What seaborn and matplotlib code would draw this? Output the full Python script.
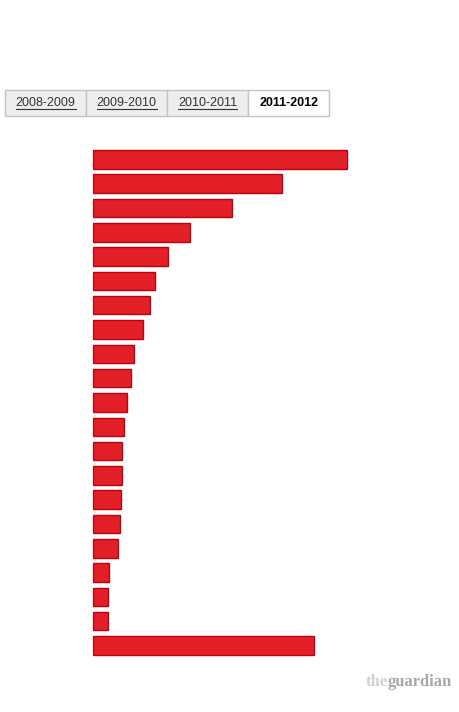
import matplotlib
matplotlib.use("Agg")
import matplotlib.pyplot as plt
import seaborn as sns
import pandas as pd
from matplotlib.patches import Rectangle
from matplotlib.lines import Line2D

# Data (bar lengths, arbitrary units; labels are not shown)
categories = [f"row{i}" for i in range(1, 22)]
values = [254, 189, 139, 97, 75, 62, 57, 50, 41, 38,
          34, 31, 29, 29, 28, 27, 25, 16, 15, 15, 221]
tabs = ["2008-2009", "2009-2010", "2010-2011", "2011-2012"]
active_tab = "2011-2012"

df = pd.DataFrame({"cat": categories, "value": values})

W, H = 460, 712
fig = plt.figure(figsize=(W / 100, H / 100), dpi=100)
fig.patch.set_facecolor("white")

# bar area
ax = fig.add_axes([93.5 / W, 1 - 657.7 / H, (W - 93.5) / W, (657.7 - 147.2) / H])
sns.barplot(data=df, x="value", y="cat", orient="h", color="#e32028",
            saturation=1, width=0.76, edgecolor="#c0000c", linewidth=1, ax=ax)
ax.set_xlim(0, W - 93.5)
ax.set_ylim(len(categories) - 0.5, -0.5)
ax.axis("off")

# --- year tabs ---
edges = [5, 86.3, 167.3, 248.3, 329.3]
top, bot = 90, 116
renderer = fig.canvas.get_renderer()
for i, t in enumerate(tabs):
    x0, x1 = edges[i], edges[i + 1]
    active = t == active_tab
    fig.add_artist(Rectangle((x0 / W, 1 - bot / H), (x1 - x0) / W, (bot - top) / H,
                             transform=fig.transFigure,
                             facecolor="white" if active else "#eeeeee",
                             edgecolor="#c4c4c4", linewidth=1))
    cx = (x0 + x1) / 2
    txt = fig.text(cx / W, 1 - 103 / H, t, ha="center", va="center",
                   fontsize=9, family="Liberation Sans",
                   fontweight="bold" if active else "normal",
                   color="#000000" if active else "#333333")
    if not active:
        bb = txt.get_window_extent(renderer)
        fig.add_artist(Line2D([bb.x0 / W, bb.x1 / W], [(1 - 108.5 / H)] * 2,
                              transform=fig.transFigure, color="#333333", linewidth=0.8))

# --- logo ---
t1 = fig.text(366 / W, 1 - 686 / H, "the", ha="left", va="baseline",
              fontsize=12, family="Liberation Serif", fontweight="bold", color="#d0d0d0")
bb = t1.get_window_extent(renderer)
fig.text(bb.x1 / W, 1 - 686 / H, "guardian", ha="left", va="baseline",
         fontsize=12, family="Liberation Serif", fontweight="bold", color="#a8a8a8")

fig.savefig("out.png", dpi=100, facecolor="white")
